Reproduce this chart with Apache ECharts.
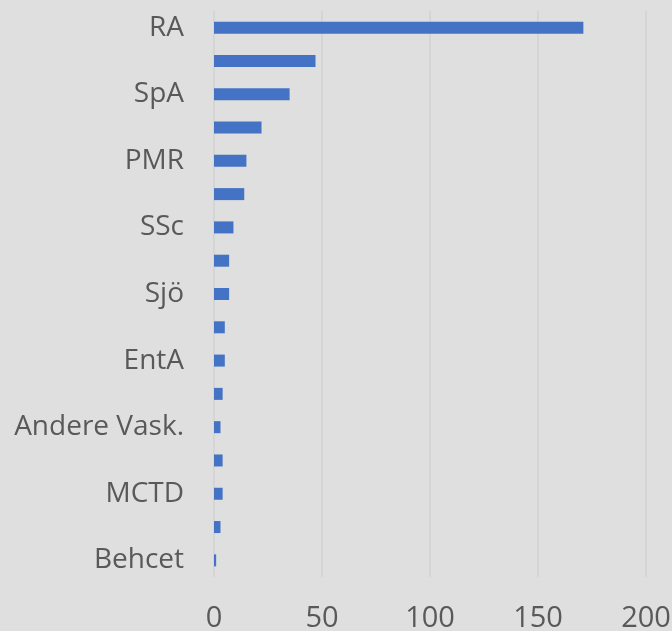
<!DOCTYPE html>
<html>
<head>
<meta charset="utf-8">
<script src="https://cdn.jsdelivr.net/npm/echarts@6/dist/echarts.min.js"></script>
<style>
  html, body { margin: 0; padding: 0; background: #dfdfdf; }
  .chart { width: 672px; height: 631px; }
</style>
</head>
<body>
<div class="chart"></div>
<script>
// Diagnosen (nur jede zweite Beschriftung ist sichtbar)
var categories = ["RA", "PsA", "SpA", "Gicht", "PMR", "SLE", "SSc", "RZA", "Sjö", "AAV",
  "EntA", "Myositis", "Andere Vask.", "CPPD", "MCTD", "Still", "Behcet"];
var counts = [171, 47, 35, 22, 15, 14, 9, 7, 7, 5, 5, 4, 3, 4, 4, 3, 1];
var xTicks = [0, 50, 100, 150, 200];

(function() {
  var myChart = echarts.init(document.querySelector(".chart"));

  var option = {
    backgroundColor: "#dfdfdf",
    grid: {
      left: 214,
      right: 26,
      top: 11,
      bottom: 54,
      outerBoundsMode: "none"
    },
    xAxis: {
      type: "value",
      min: xTicks[0],
      max: xTicks[xTicks.length - 1],
      interval: xTicks[1] - xTicks[0],
      axisLine: { show: false },
      axisTick: { show: false },
      axisLabel: {
        color: "#595959",
        fontSize: 29,
        fontFamily: "Open Sans",
        margin: 27
      },
      splitLine: {
        lineStyle: {
          color: "#d5d5d5",
          width: 2
        }
      }
    },
    yAxis: {
      type: "category",
      inverse: true,
      data: categories,
      axisLine: { show: false },
      axisTick: { show: false },
      axisLabel: {
        interval: 1,
        color: "#595959",
        fontSize: 28,
        fontFamily: "Open Sans",
        margin: 30
      }
    },
    series: [
      {
        name: "Anzahl",
        type: "bar",
        data: counts,
        barWidth: 12,
        itemStyle: {
          color: "#4472c4"
        }
      }
    ]
  };

  myChart.setOption(option);
  window.addEventListener("resize", function() {
    myChart.resize();
  });
})();
</script>
</body>
</html>
